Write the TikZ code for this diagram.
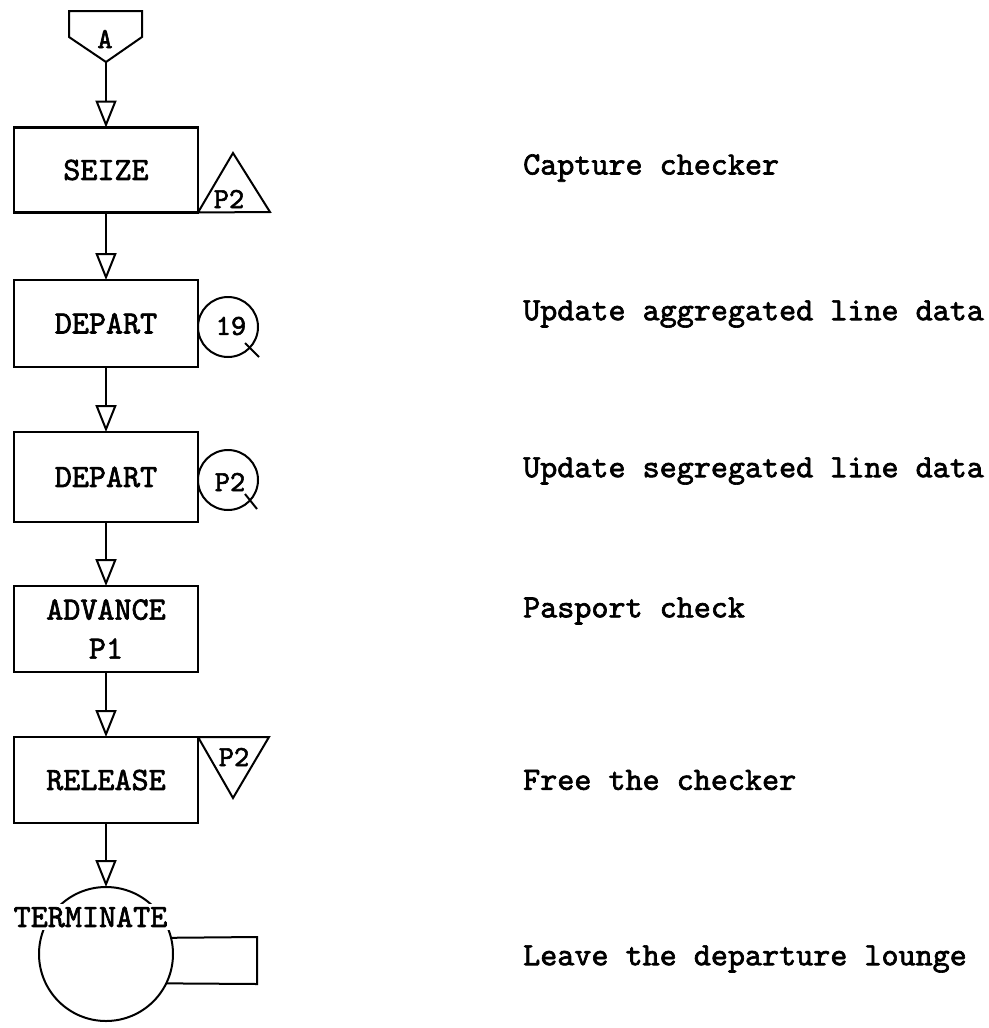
\documentclass[tikz,border=0pt]{standalone}
\usepackage{fontspec}
\usetikzlibrary{arrows.meta,calc}
% heavier typewriter face
\newfontfamily\twfam{lmmono10-regular.otf}[FakeBold=2]
\newcommand\twfont{\twfam\fontsize{32.5}{39}\selectfont}
\newcommand\twsmall{\twfam\fontsize{29}{32}\selectfont}
\tikzset{
  block/.style={draw, line width=2.2pt, minimum width=184pt, minimum height=85pt,
    inner sep=0pt, outer sep=0pt, align=center, font=\twfont},
  flow/.style={line width=2pt, -{Triangle[open, length=27pt, width=21pt]}},
  mark line/.style={line width=2pt},
  tag/.style={inner sep=0pt, font=\twsmall},
  note/.style={anchor=west, inner sep=0pt, font=\twfont},
  ring/.style={draw, circle, line width=2pt, minimum size=60pt, inner sep=0pt, outer sep=0pt}
}
\begin{document}
\begin{tikzpicture}[x=1pt, y=-1pt]
\useasboundingbox (0,0) rectangle (988,1028);

% entry connector A
\draw[mark line, line join=miter] (69,11) -- (142,11) -- (142,37) -- (106,62) -- (69,37) -- cycle;
\node[tag] (lblA) at (105,39) {A};
\coordinate (atip) at (106,62);

% blocks
\node[block] (seize)   at (106,170)   {SEIZE};
\node[block, minimum height=87pt] (depart1) at (106,323.5) {DEPART};
\node[block, minimum height=90pt] (depart2) at (106,477)   {DEPART};
\node[block, minimum height=86pt] (advance) at (106,629)   {ADVANCE\\P1};
\node[block, minimum height=86pt] (release) at (106,780)   {RELEASE};

% terminate
\node[draw, circle, line width=2pt, minimum size=134pt, inner sep=0pt, outer sep=0pt] (term) at (106,954) {};
\node[fill=white, inner sep=3pt, font=\twfont] (termlbl) at (90.5,917) {TERMINATE};
\draw[mark line] (term.14.7) -- (257,937) -- (257,984) -- (term.-26.6);

% flow connectors
\draw[flow] (atip) -- (seize.north);
\draw[flow] (seize.south) -- (depart1.north);
\draw[flow] (depart1.south) -- (depart2.north);
\draw[flow] (depart2.south) -- (advance.north);
\draw[flow] (advance.south) -- (release.north);
\draw[flow] (release.south) -- (term.north);

% storage seize marker
\draw[mark line, line join=miter] (seize.south east) -- (233,153) -- (270,212) -- cycle;
\node[tag] (seizetag) at (229,199) {P2};

% storage release marker
\draw[mark line, line join=miter] (release.north east) -- (269,737) -- (233,798) -- cycle;
\node[tag] (reltag) at (234,757) {P2};

% table markers
\node[ring] (q19) at (228,327) {};
\node[tag] (q19lbl) at (231,326) {19};
\draw[mark line] ($(q19)+(17,16)$) -- ($(q19)+(31,30)$);

\node[ring] (qp2) at (228,480) {};
\node[tag] (qp2lbl) at (230,482) {P2};
\draw[mark line] ($(qp2)+(17,14)$) -- ($(qp2)+(29,29)$);

% descriptions
\node[note] (n1) at (523,168) {Capture checker};
\node[note] (n2) at (523,314) {Update aggregated line data};
\node[note] (n3) at (523,471) {Update segregated line data};
\node[note] (n4) at (523,611) {Pasport check};
\node[note] (n5) at (523,780) {Free the checker};
\node[note] (n6) at (523,959) {Leave the departure lounge};
\end{tikzpicture}
\end{document}
